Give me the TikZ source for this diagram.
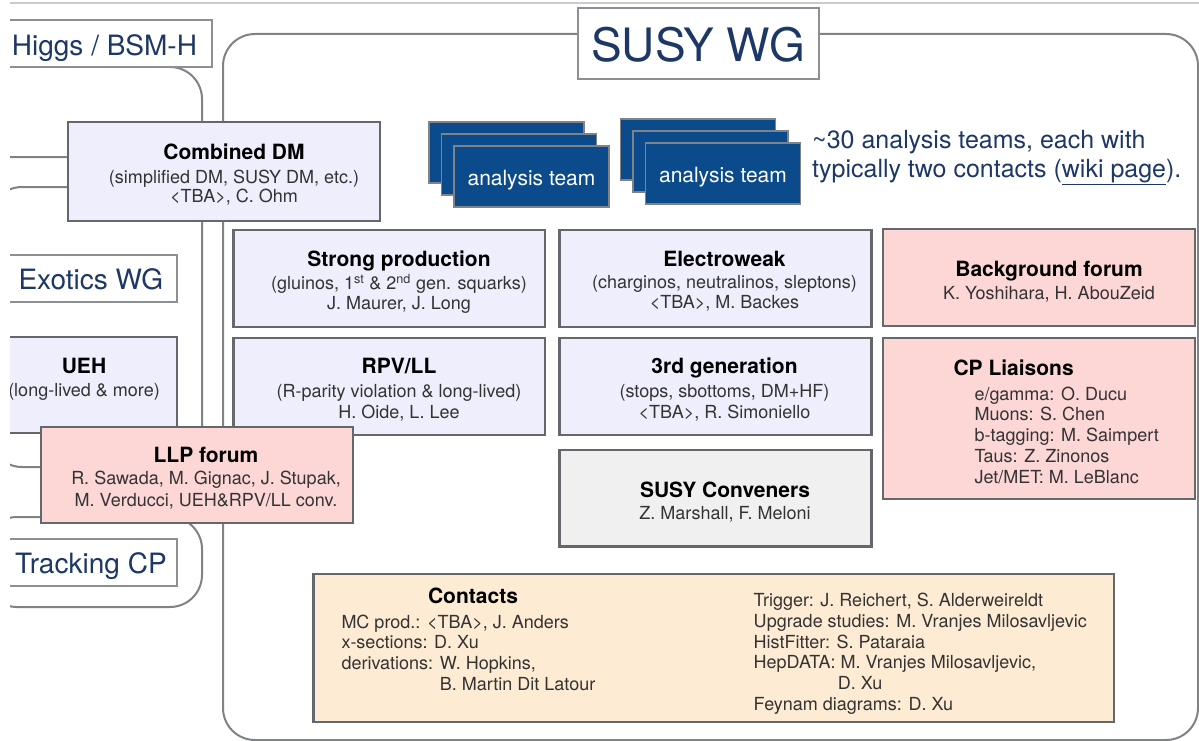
\documentclass[tikz,border=0pt]{standalone}
\usepackage{fontspec}
\setmainfont{TeX Gyre Heros}

% palette
\definecolor{framegray}{HTML}{7F8287}
\definecolor{boxborder}{HTML}{64676C}
\definecolor{titleborder}{HTML}{8C8F94}
\definecolor{topgray}{HTML}{C8CBD2}
\definecolor{lavender}{HTML}{EFEEFC}
\definecolor{rose}{HTML}{FDD6D6}
\definecolor{palegray}{HTML}{F0F0F0}
\definecolor{peach}{HTML}{FDEBD3}
\definecolor{teamblue}{HTML}{0B4A8B}
\definecolor{navy}{HTML}{1D3766}
\definecolor{bodytext}{HTML}{333333}

\begin{document}
\begin{tikzpicture}[x=1pt,y=-1pt,
  frameline/.style={draw=framegray, line width=2pt, rounded corners=32pt},
  topline/.style={draw=topgray, line width=2pt},
  panel/.style={draw=boxborder, line width=2.2pt, inner sep=0pt, outer sep=0pt},
  lavbox/.style={panel, fill=lavender},
  rosebox/.style={panel, fill=rose},
  graybox/.style={panel, fill=palegray},
  peachbox/.style={panel, fill=peach},
  wgbox/.style={draw=titleborder, line width=2pt, fill=white, inner sep=0pt, outer sep=0pt},
  teambox/.style={draw=framegray, line width=1.6pt, fill=teamblue, inner sep=0pt,
                  minimum width=155pt, minimum height=61pt},
  ttl/.style={font=\fontsize{21}{24}\selectfont\bfseries, text=black, anchor=base, inner sep=0pt},
  txt/.style={font=\fontsize{18}{21}\selectfont, text=bodytext, anchor=base, inner sep=0pt},
  ltxt/.style={txt, anchor=base west},
  wgtxt/.style={font=\fontsize{28}{32}\selectfont, text=navy, anchor=base west, inner sep=0pt},
  teamtxt/.style={font=\fontsize{21}{24}\selectfont, text=white, anchor=base, inner sep=0pt},
  desctxt/.style={font=\fontsize{25}{29}\selectfont, text=navy, anchor=base west, inner sep=0pt}
]
\useasboundingbox (0,0) rectangle (1199,741);
\fill[white] (0,0) rectangle (1199,741);

\begin{scope}
\clip (10,0) rectangle (1199,741);

% slide rule at the very top
\draw[topline] (10,3) -- (1199,3);

% group frames
\draw[frameline] (223,34) rectangle (1198,740);
\draw[frameline] (-200,67) rectangle (202,157);
\draw[frameline] (-10,187) rectangle (202,467);
\draw[frameline] (-15,517) rectangle (202,607);

% working-group titles
\node[wgbox, minimum width=241.5pt, minimum height=70.7pt] (susywg) at (698.25,43.65) {};
\node[font=\fontsize{46}{50}\selectfont, text=navy, anchor=base, inner sep=0pt] (susywg-t) at (698.25,61.5) {SUSY WG};

\node[wgbox, minimum width=232pt, minimum height=47pt] (higgs) at (96,43.5) {};
\node[wgtxt] (higgs-t) at (11.7,55.8) {Higgs / BSM-H};

\node[wgbox, minimum width=197.3pt, minimum height=46.7pt] (exotics) at (78.65,278.35) {};
\node[wgtxt] (exotics-t) at (18.3,289.7) {Exotics WG};

\node[wgbox, minimum width=196.7pt, minimum height=46.7pt] (tracking) at (78.35,562.65) {};
\node[wgtxt] (tracking-t) at (15,573.3) {Tracking CP};

% analysis teams
\node[teambox] (teamA3) at (506.5,152.5) {};
\node[teambox] (teamA2) at (519,164.5) {};
\node[teambox] (teamA1) at (531.5,176.5) {};
\node[teamtxt] (teamA-t) at (531.5,185) {analysis team};

\node[teambox] (teamB3) at (698,149.5) {};
\node[teambox] (teamB2) at (710.5,161.5) {};
\node[teambox] (teamB1) at (723,173.5) {};
\node[teamtxt] (teamB-t) at (723,182.5) {analysis team};

\node[desctxt] (desc1) at (812,149) {\textasciitilde30 analysis teams, each with};
\node[desctxt] (desc2) at (812,177) {typically two contacts (\underline{wiki page}).};

% Combined DM
\node[lavbox, minimum width=312pt, minimum height=99pt] (cdm) at (224,171.5) {};
\node[ttl] (cdm-t) at (234,160) {Combined DM};
\node[txt] (cdm-1) at (234,183) {(simplified DM, SUSY DM, etc.)};
\node[txt] (cdm-2) at (234,202.5) {<TBA>, C. Ohm};

% UEH
\node[lavbox, minimum width=206.7pt, minimum height=95.7pt] (ueh) at (73.35,385.15) {};
\node[ttl] (ueh-t) at (84,373.3) {UEH};
\node[txt] (ueh-1) at (84,396.5) {(long-lived \& more)};

% Strong production
\node[lavbox, minimum width=311.5pt, minimum height=97pt] (strong) at (389.25,278.5) {};
\node[ttl] (strong-t) at (399,266.5) {Strong production};
\node[txt] (strong-1) at (399,289.5) {(gluinos, 1\textsuperscript{st} \& 2\textsuperscript{nd} gen. squarks)};
\node[txt] (strong-2) at (399,309.5) {J. Maurer, J. Long};

% Electroweak
\node[lavbox, minimum width=312pt, minimum height=97pt] (ewk) at (715.5,278.5) {};
\node[ttl] (ewk-t) at (724.5,266) {Electroweak};
\node[txt] (ewk-1) at (724.5,288.5) {(charginos, neutralinos, sleptons)};
\node[txt] (ewk-2) at (724.5,308.5) {<TBA>, M. Backes};

% RPV/LL
\node[lavbox, minimum width=311.5pt, minimum height=97pt] (rpv) at (389.25,386.5) {};
\node[ttl] (rpv-t) at (399,373.3) {RPV/LL};
\node[txt] (rpv-1) at (399,397) {(R-parity violation \& long-lived)};
\node[txt] (rpv-2) at (399,418) {H. Oide, L. Lee};

% 3rd generation
\node[lavbox, minimum width=312pt, minimum height=97pt] (third) at (715.5,386.5) {};
\node[ttl] (third-t) at (724.5,373.3) {3rd generation};
\node[txt] (third-1) at (724.5,397) {(stops, sbottoms, DM+HF)};
\node[txt] (third-2) at (724.5,418) {<TBA>, R. Simoniello};

% SUSY conveners
\node[graybox, minimum width=312pt, minimum height=96.5pt] (conv) at (715.5,498.25) {};
\node[ttl] (conv-t) at (725,497.5) {SUSY Conveners};
\node[txt] (conv-1) at (725,519.5) {Z. Marshall, F. Meloni};

% Background forum
\node[rosebox, minimum width=312.3pt, minimum height=96.7pt] (bkg) at (1038.85,277.65) {};
\node[ttl] (bkg-t) at (1049,276.3) {Background forum};
\node[txt] (bkg-1) at (1049,299) {K. Yoshihara, H. AbouZeid};

% CP liaisons
\node[rosebox, minimum width=312.3pt, minimum height=161pt] (cpl) at (1038.85,418.8) {};
\node[ttl, anchor=base west] (cpl-t) at (953.3,375.8) {CP Liaisons};
\node[ltxt] (cpl-1) at (974.3,400) {e/gamma: O. Ducu};
\node[ltxt] (cpl-2) at (974.3,420.8) {Muons: S. Chen};
\node[ltxt] (cpl-3) at (974.3,441.6) {b-tagging: M. Saimpert};
\node[ltxt] (cpl-4) at (974.3,462.4) {Taus: Z. Zinonos};
\node[ltxt] (cpl-5) at (974.3,483.2) {Jet/MET: M. LeBlanc};

% LLP forum
\node[rosebox, minimum width=312pt, minimum height=96pt] (llp) at (196.65,474.7) {};
\node[ttl] (llp-t) at (206,462.5) {LLP forum};
\node[txt] (llp-1) at (206,484.8) {R. Sawada, M. Gignac, J. Stupak,};
\node[txt] (llp-2) at (206,506.5) {M. Verducci, UEH\&RPV/LL conv.};

% Contacts
\node[peachbox, minimum width=800.9pt, minimum height=148pt] (contacts) at (713.85,648) {};
\node[ttl] (contacts-t) at (473,603.5) {Contacts};
\node[ltxt] (ct-l1) at (341.3,628) {MC prod.: <TBA>, J. Anders};
\node[ltxt] (ct-l2) at (341.3,648.8) {x-sections: D. Xu};
\node[ltxt] (ct-l3) at (341.3,669.6) {derivations: W. Hopkins,};
\node[ltxt] (ct-l4) at (439.7,690.4) {B. Martin Dit Latour};
\node[ltxt] (ct-r1) at (753.5,606.5) {Trigger: J. Reichert, S. Alderweireldt};
\node[ltxt] (ct-r2) at (753.5,627.3) {Upgrade studies: M. Vranjes Milosavljevic};
\node[ltxt] (ct-r3) at (753.5,648.1) {HistFitter: S. Pataraia};
\node[ltxt] (ct-r4) at (753.5,668.9) {HepDATA: M. Vranjes Milosavljevic,};
\node[ltxt] (ct-r5) at (837.7,689.7) {D. Xu};
\node[ltxt] (ct-r6) at (753.5,710.5) {Feynam diagrams: D. Xu};
\end{scope}
\end{tikzpicture}
\end{document}
